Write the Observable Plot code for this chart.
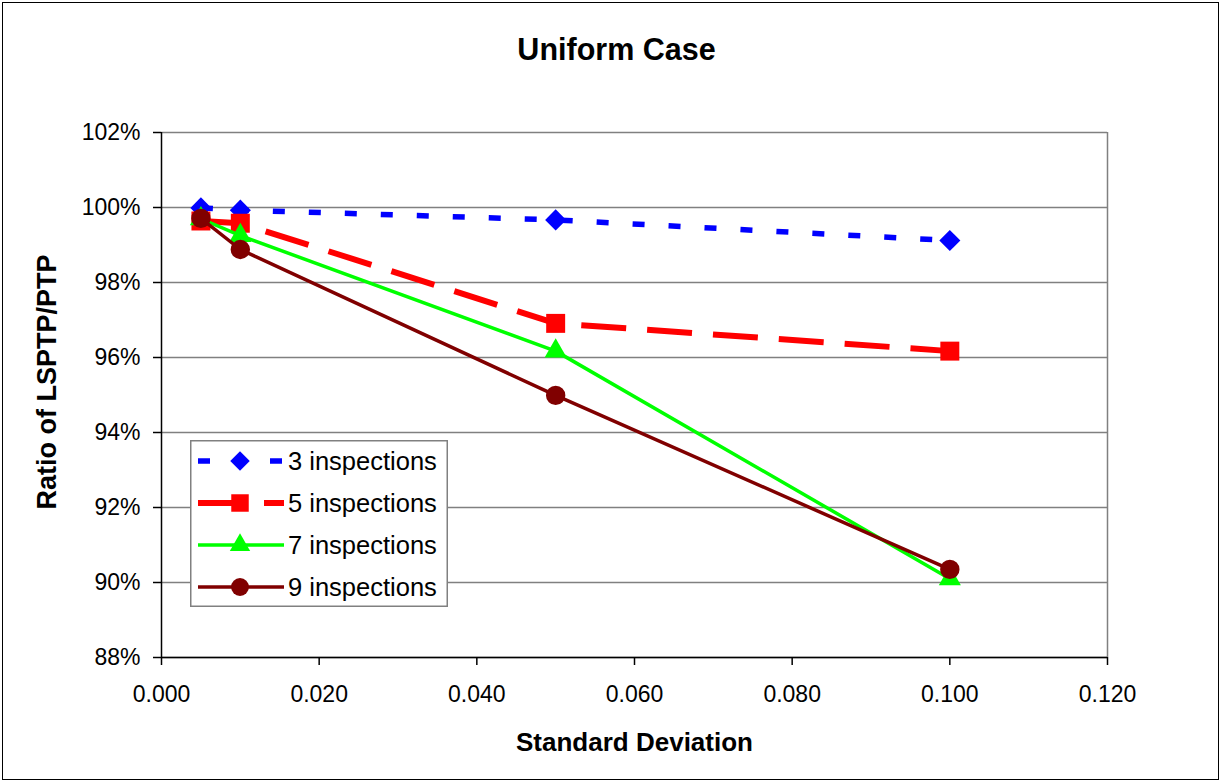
<!DOCTYPE html>
<html><head><meta charset="utf-8">
<script src="https://cdn.jsdelivr.net/npm/d3@7"></script>
<script src="https://cdn.jsdelivr.net/npm/@observablehq/plot@0.6"></script>
<style>
body{margin:0;background:#fff;}
#wrap{position:relative;width:1222px;height:784px;overflow:hidden;}
#border{position:absolute;left:2px;top:2px;width:1215px;height:776px;border:1.5px solid #000;pointer-events:none;}
#legend{position:absolute;left:190px;top:440px;}
</style></head><body><div id="wrap"><div id="border"></div></div>
<script>
// ---- data ----
const sd = [0.005, 0.01, 0.05, 0.1];
const seriesNames = ["3 inspections", "5 inspections", "7 inspections", "9 inspections"];
const insp3 = [99.99, 99.93, 99.67, 99.12];
const insp5 = [99.64, 99.58, 96.91, 96.17];
const insp7 = [99.70, 99.25, 96.17, 90.10];
const insp9 = [99.71, 98.88, 94.99, 90.35];
const yTicks = [88, 90, 92, 94, 96, 98, 100, 102];
const xTicks = [0, 0.02, 0.04, 0.06, 0.08, 0.1, 0.12];
const titleText = "Uniform Case";
const xLabel = "Standard Deviation";
const yLabel = "Ratio of LSPTP/PTP";

// ---- styles ----
const styles = [
  {color: "#0000FF", width: 5.5, dash: "12,24", symbol: "diamond2", r: 9.5},
  {color: "#FF0000", width: 6, dash: "45,21", symbol: "square", r: 10.7},
  {color: "#00FF00", width: 3.5, dash: null, symbol: "triangle", r: 8.2},
  {color: "#800000", width: 3.5, dash: null, symbol: "circle", r: 9.7}
];
const values = [insp3, insp5, insp7, insp9];
const rows = seriesNames.map((name, i) => sd.map((x, j) => ({series: name, x, y: values[i][j]})));

const font = "Arial, 'Liberation Sans', sans-serif";
const marks = [
  Plot.gridY(yTicks, {stroke: "#808080", strokeOpacity: 1, strokeWidth: 1.5}),
  Plot.ruleX([xTicks[xTicks.length - 1]], {stroke: "#808080", strokeWidth: 1.5}),
  Plot.ruleY([yTicks[0]], {stroke: "#000", strokeWidth: 1.5}),
  Plot.ruleX([xTicks[0]], {stroke: "#000", strokeWidth: 1.5}),
  Plot.axisY(yTicks, {tickFormat: d => d + "%", tickSize: 8, tickPadding: 13, fontSize: 23, label: null, stroke: "#000", strokeWidth: 1.5}),
  Plot.axisX(xTicks, {tickFormat: d3.format(".3f"), tickSize: 8, tickPadding: 20, fontSize: 23, label: null, stroke: "#000", strokeWidth: 1.5})
];
rows.forEach((data, i) => {
  const s = styles[i];
  marks.push(Plot.line(data, {x: "x", y: "y", stroke: s.color, strokeWidth: s.width, strokeDasharray: s.dash, strokeLinecap: "butt", strokeLinejoin: "miter"}));
  marks.push(Plot.dot(data, {x: "x", y: "y", symbol: () => s.symbol, r: s.r, fill: s.color, stroke: "none"}));
});
marks.push(Plot.text([titleText], {frameAnchor: "top", dy: -82, dx: -18, fontSize: 30.5, fontWeight: "bold", textAnchor: "middle", lineAnchor: "middle"}));
marks.push(Plot.text([xLabel], {frameAnchor: "bottom", dy: 85, fontSize: 26, fontWeight: "bold", textAnchor: "middle", lineAnchor: "middle"}));
marks.push(Plot.text([yLabel], {frameAnchor: "left", dx: -114, dy: -13, rotate: -90, fontSize: 27, fontWeight: "bold", textAnchor: "middle", lineAnchor: "middle"}));

const chart = Plot.plot({
  width: 1222, height: 784,
  marginLeft: 161, marginRight: 115, marginTop: 132, marginBottom: 127,
  x: {domain: [xTicks[0], xTicks[xTicks.length - 1]], axis: null},
  y: {domain: [yTicks[0], yTicks[yTicks.length - 1]], axis: null},
  symbol: {type: "identity"},
  style: {fontFamily: font, color: "#000", background: "#fff", overflow: "visible"},
  marks
});
document.getElementById("wrap").prepend(chart);

// ---- legend (overlay inside plot area) ----
const lw = 258, lh = 167;
const leg = d3.select("#wrap").append("svg").attr("id", "legend").attr("width", lw).attr("height", lh)
  .style("font-family", font);
leg.append("rect").attr("x", 0.75).attr("y", 0.75).attr("width", lw - 1.5).attr("height", lh - 1.5)
  .attr("fill", "#fff").attr("stroke", "#808080").attr("stroke-width", 1.5);
const symMap = {diamond2: d3.symbolDiamond2, square: d3.symbolSquare, triangle: d3.symbolTriangle, circle: d3.symbolCircle};
seriesNames.forEach((name, i) => {
  const s = styles[i];
  const cy = 21 + i * 42;
  const g = leg.append("g").attr("transform", `translate(0,${cy})`);
  g.append("line").attr("x1", 8).attr("x2", 94).attr("y1", 0).attr("y2", 0)
    .attr("stroke", s.color).attr("stroke-width", s.width).attr("stroke-dasharray", s.dash);
  g.append("path").attr("transform", "translate(50,0)")
    .attr("d", d3.symbol(symMap[s.symbol], Math.PI * s.r * s.r * 0.85)()).attr("fill", s.color);
  g.append("text").attr("x", 98).attr("y", 0).attr("dy", "0.35em").attr("font-size", 25.5).attr("fill", "#000").text(name);
});
</script></body></html>
